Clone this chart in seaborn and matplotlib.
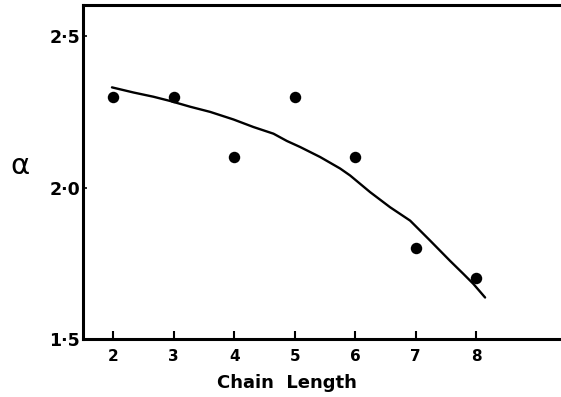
import matplotlib
matplotlib.use("Agg")
import matplotlib.pyplot as plt
import seaborn as sns
import pandas as pd

# Observed data points
chain_length = [2, 3, 4, 5, 6, 7, 8]
alpha_obs = [2.3, 2.3, 2.1, 2.3, 2.1, 1.8, 1.7]

# Smooth fitted curve
curve_x = [1.979, 2.336, 2.666, 2.942, 3.273, 3.603, 3.988, 4.319, 4.650, 4.871,
           5.091, 5.421, 5.752, 5.917, 6.248, 6.579, 6.909, 7.240, 7.570, 7.790,
           7.955, 8.149]
curve_y = [2.331, 2.314, 2.300, 2.286, 2.267, 2.250, 2.225, 2.200, 2.178, 2.154,
           2.134, 2.101, 2.063, 2.040, 1.985, 1.935, 1.891, 1.825, 1.758, 1.715,
           1.682, 1.637]

x_ticks = [2, 3, 4, 5, 6, 7, 8]
y_ticks = [1.5, 2.0, 2.5]
y_tick_labels = ["1·5", "2·0", "2·5"]

sns.set_theme(style="white")
plt.rcParams['font.family'] = ['DejaVu Sans']
plt.rcParams['text.color'] = 'black'
plt.rcParams['xtick.color'] = 'black'
plt.rcParams['ytick.color'] = 'black'
plt.rcParams['xtick.labelcolor'] = 'black'
plt.rcParams['ytick.labelcolor'] = 'black'

fig = plt.figure(figsize=(5.61, 3.97), dpi=100)
ax = fig.add_axes([83/561, 1 - 339/397, 1.01 - 83/561, (339 - 5)/397])

pts = pd.DataFrame({"x": chain_length, "y": alpha_obs})
crv = pd.DataFrame({"x": curve_x, "y": curve_y})

sns.lineplot(data=crv, x="x", y="y", ax=ax, color="black", linewidth=1.7, sort=False)
sns.scatterplot(data=pts, x="x", y="y", ax=ax, color="black", s=68, edgecolor="black",
                linewidth=0, zorder=3)

ax.set_xlim(1.5, 9.497)
ax.set_ylim(1.5, 2.603)

ax.set_xticks(x_ticks)
ax.set_xticklabels([str(v) for v in x_ticks], fontsize=11, fontweight="bold", color="black")
ax.set_yticks(y_ticks)
ax.set_yticklabels(y_tick_labels, fontsize=12.5, fontweight="bold", color="black")

ax.tick_params(axis="x", direction="in", length=6, width=1.5, color="black", pad=7, bottom=True)
ax.tick_params(axis="y", direction="in", length=3, width=1.2, color="black", pad=2, left=True)

for side in ["left", "top", "bottom"]:
    ax.spines[side].set_visible(True)
    ax.spines[side].set_color("black")
    ax.spines[side].set_linewidth(2.2)
ax.spines["right"].set_visible(False)

ax.set_xlabel("")
ax.set_ylabel("")
fig.text(287/561, 1 - 383/397, "Chain  Length", ha="center", va="center",
         fontsize=13, fontweight="bold", color="black")
fig.text(20/561, 1 - 166/397, "α", ha="center", va="center", fontsize=21, color="black")

fig.savefig("out.png", dpi=100)
